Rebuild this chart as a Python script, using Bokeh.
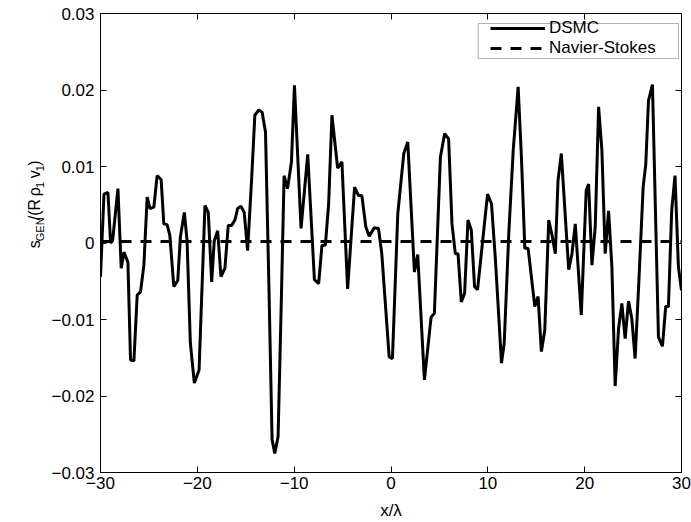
import math
from bokeh.plotting import figure
from bokeh.layouts import row
from bokeh.models import (LinearAxis, FixedTicker, CustomJSTickFormatter, Legend,
                          LegendItem, Range1d, BoxAnnotation)
from bokeh.core.properties import value
from bokeh.embed import file_html
from bokeh.resources import INLINE

# ---------------- data ----------------
x_dsmc = [-30.0, -29.64, -29.23, -28.96, -28.75, -28.20, -27.86, -27.58, -27.17, -26.90,
          -26.55, -26.21, -25.87, -25.52, -25.18, -24.90, -24.49, -24.15, -23.74, -23.46,
          -23.12, -22.84, -22.43, -22.02, -21.75, -21.34, -21.06, -20.72, -20.31,
          -19.82, -19.55, -19.21, -18.87, -18.52, -18.25, -17.90, -17.56, -17.15, -16.81,
          -16.46, -16.12, -15.84, -15.50, -15.16, -14.81, -14.40, -14.06, -13.65, -13.31,
          -12.96, -12.62, -12.28, -12.00, -11.66, -11.31, -11.04, -10.69, -10.28,
          -9.97, -9.29, -8.60, -7.91, -7.47, -7.13, -6.78, -6.44, -6.10, -5.51,
          -5.07, -4.48, -3.76, -3.35, -3.01, -2.60, -2.25, -1.73, -1.29, -0.95,
          -0.19, 0.15,
          0.70, 1.32, 1.73, 2.42, 2.76, 3.45, 4.14, 4.48, 5.10, 5.54,
          5.95, 6.30, 6.64, 6.92, 7.26, 7.60, 7.95, 8.29, 8.63, 8.94, 9.97,
          10.38, 10.79, 11.41, 11.69, 12.17, 12.62, 13.13, 13.47, 13.82, 14.16,
          14.85, 15.19, 15.53, 15.88, 16.29, 16.63, 16.97, 17.25, 17.59, 18.35,
          18.69, 19.03, 19.65, 20.16,
          20.41, 20.75, 21.09, 21.44, 21.78, 22.12, 22.47, 22.81, 23.15, 23.50,
          23.84, 24.18, 24.53, 24.87, 25.21, 25.62, 26.04, 26.31, 26.59, 27.00,
          27.62, 28.03, 28.37, 28.65, 28.99, 29.33, 29.68, 30.0]

s_dsmc = [-0.0044, 0.0064, 0.0066, 0.0, 0.0003, 0.0071, -0.0033, -0.0012, -0.0025, -0.0153,
          -0.0154, -0.0068, -0.0064, -0.0029, 0.0060, 0.0045, 0.0047, 0.0088, 0.0083, 0.0025,
          0.0024, 0.0010, -0.0057, -0.0049, 0.0008, 0.0040, 0.0003, -0.0131, -0.0183,
          -0.0166, -0.0070, 0.0049, 0.0040, -0.0051, 0.0003, 0.0016, -0.0044, -0.0033, 0.0023,
          0.0023, 0.0030, 0.0045, 0.0048, 0.0040, -0.0010, 0.0082, 0.0167, 0.0174, 0.0171,
          0.0145, -0.0049, -0.0257, -0.0275, -0.0253, -0.0066, 0.0088, 0.0071, 0.0106,
          0.0206, 0.0019, 0.0116, -0.0048, -0.0053, -0.0003, -0.0003, 0.0051, 0.0167, 0.0098,
          0.0106, -0.0060, 0.0073, 0.0062, 0.0062, 0.0021, 0.0009, 0.0020, 0.0019, -0.0014,
          -0.0149, -0.0151,
          0.0038, 0.0117, 0.0132, -0.0038, -0.0015, -0.0179, -0.0097, -0.0092, 0.0112, 0.0143,
          0.0136, 0.0025, -0.0014, -0.0014, -0.0077, -0.0066, 0.0030, 0.0017, -0.0057, -0.0061,
          0.0064,
          0.0051, -0.0023, -0.0157, -0.0131, 0.0014, 0.0121, 0.0204, 0.0112, -0.0007, -0.0007,
          -0.0083, -0.0070, -0.0142, -0.0114, 0.0030, 0.0010, -0.0014, 0.0082, 0.0117, -0.0035,
          -0.0014, 0.0025, -0.0094, 0.0069,
          0.0077, -0.0029, 0.0021, 0.0178, 0.0121, -0.0014, 0.0042, -0.0031, -0.0187, -0.0112,
          -0.0079, -0.0125, -0.0076, -0.0099, -0.0151, -0.0044, 0.0073, 0.0103, 0.0186, 0.0207,
          -0.0123, -0.0135, -0.0083, -0.0083, 0.0043, 0.0088, -0.0031, -0.0062]

x_ns = [-30.0, 30.0]
s_ns = [0.0002, 0.0002]

x_ticks = [-30, -20, -10, 0, 10, 20, 30]
y_ticks = [-0.03, -0.02, -0.01, 0.0, 0.01, 0.02, 0.03]
series_labels = ["DSMC", "Navier-Stokes"]
x_label = "x/λ"
# y label pieces: (text, is_subscript, gap after in em of the main font)
y_label_parts = [("s", False, 0.0), ("GEN", True, 0.0), ("/(R", False, 0.38),
                 ("ρ", False, 0.0), ("1", True, 0.32), ("v", False, 0.0),
                 ("1", True, 0.0), (")", False, 0.0)]

# ---------------- layout ----------------
W, H = 691, 522
LW = 48                               # width of the strip that holds the y label
FL, FR, FT, FB = 98, 681, 13, 472     # frame edges in page pixels
XMIN, XMAX, YMIN, YMAX = -30, 30, -0.03, 0.03
FONT = "Liberation Sans"
FS = "17px"

p = figure(width=W - LW, height=H, output_backend="svg", toolbar_location=None,
           x_range=Range1d(XMIN, XMAX), y_range=Range1d(YMIN, YMAX),
           min_border_left=FL - LW, min_border_right=W - FR,
           min_border_top=FT, min_border_bottom=H - FB)
p.xgrid.visible = False
p.ygrid.visible = False
p.outline_line_color = "black"
p.outline_line_width = 1
p.background_fill_color = "white"
p.border_fill_color = "white"

xfmt = CustomJSTickFormatter(code="""
    const v = Math.round(tick);
    return (v < 0 ? '\u2212' : '') + Math.abs(v).toString();
""")
yfmt = CustomJSTickFormatter(code="""
    if (Math.abs(tick) < 1e-9) return '0';
    return (tick < 0 ? '\u2212' : '') + Math.abs(tick).toFixed(2);
""")
empty = CustomJSTickFormatter(code="return '';")

def style_axis(ax):
    ax.major_tick_in = 6
    ax.major_tick_out = 0
    ax.minor_tick_line_color = None
    ax.axis_line_color = "black"
    ax.major_tick_line_color = "black"
    ax.major_label_text_font = FONT
    ax.major_label_text_font_size = FS
    ax.major_label_text_color = "black"

p.xaxis.ticker = FixedTicker(ticks=x_ticks)
p.yaxis.ticker = FixedTicker(ticks=y_ticks)
p.xaxis.formatter = xfmt
p.yaxis.formatter = yfmt
for ax in p.xaxis + p.yaxis:
    style_axis(ax)
p.xaxis.major_label_standoff = 4
p.yaxis.major_label_standoff = 6
p.xaxis.axis_label = x_label
p.xaxis.axis_label_text_font = FONT
p.xaxis.axis_label_text_font_size = FS
p.xaxis.axis_label_text_font_style = "normal"
p.xaxis.axis_label_text_color = "black"
p.xaxis.axis_label_standoff = 9

top_ax = LinearAxis(ticker=FixedTicker(ticks=x_ticks), formatter=empty)
right_ax = LinearAxis(ticker=FixedTicker(ticks=y_ticks), formatter=empty)
for ax in (top_ax, right_ax):
    style_axis(ax)
    ax.major_label_standoff = 0
p.add_layout(top_ax, "above")
p.add_layout(right_ax, "right")

# ---------------- lines ----------------
r1 = p.line(x_dsmc, s_dsmc, line_color="black", line_width=3)
r2 = p.line(x_ns, s_ns, line_color="black", line_width=3, line_dash="11 9")

# ---------------- legend ----------------
def dx(px):
    return XMIN + (px - FL) * (XMAX - XMIN) / (FR - FL)

def dy(py):
    return YMAX - (py - FT) * (YMAX - YMIN) / (FB - FT)

box = BoxAnnotation(left=dx(477), right=dx(678), top=dy(23), bottom=dy(58),
                    fill_color="white", fill_alpha=1.0, line_color="black", line_width=1)
p.add_layout(box)

legend = Legend(items=[LegendItem(label=series_labels[0], renderers=[r1]),
                       LegendItem(label=series_labels[1], renderers=[r2])],
                location=(488 - FL, FB - 58),
                border_line_color=None, background_fill_alpha=0.0,
                padding=0, margin=0, spacing=0,
                glyph_width=55, glyph_height=16, label_height=16,
                label_standoff=4, label_width=128,
                label_text_font=FONT, label_text_font_size=FS,
                label_text_color="black", label_text_baseline="middle")
p.add_layout(legend)

# ---------------- y label strip (separate narrow figure, y up, pixel units) ----------------
lab = figure(width=LW, height=H, output_backend="svg", toolbar_location=None,
             x_range=Range1d(0, LW), y_range=Range1d(0, H),
             x_axis_location=None, y_axis_location=None,
             min_border_left=0, min_border_right=0, min_border_top=0, min_border_bottom=0)
lab.xgrid.visible = False
lab.ygrid.visible = False
lab.outline_line_color = None
lab.background_fill_color = "white"
lab.border_fill_color = "white"

CW = {"s": .5, "G": .778, "E": .667, "N": .722, "/": .278, "(": .333, "R": .722,
      " ": .278, "ρ": .578, "1": .556, "v": .5, ")": .333}
MAIN, SUB = 16, 11
base_x = 34.0        # main baseline (page px from left)
sub_shift = 5.0      # subscript baseline offset (downwards = to the right)
py = 267.0           # page y (from top) where the label starts (its lower end)
for txt, is_sub, gap in y_label_parts:
    size = SUB if is_sub else MAIN
    lab.text(x=[base_x + (sub_shift if is_sub else 0)], y=[H - py], text=[txt],
             angle=math.pi / 2, text_font=value(FONT), text_font_size=f"{size}px",
             text_color="black", text_align="left", text_baseline="alphabetic")
    py -= sum(CW[c] for c in txt) * size + gap * MAIN

layout = row(lab, p, spacing=0)
open("out.html", "w").write(file_html(layout, INLINE))
